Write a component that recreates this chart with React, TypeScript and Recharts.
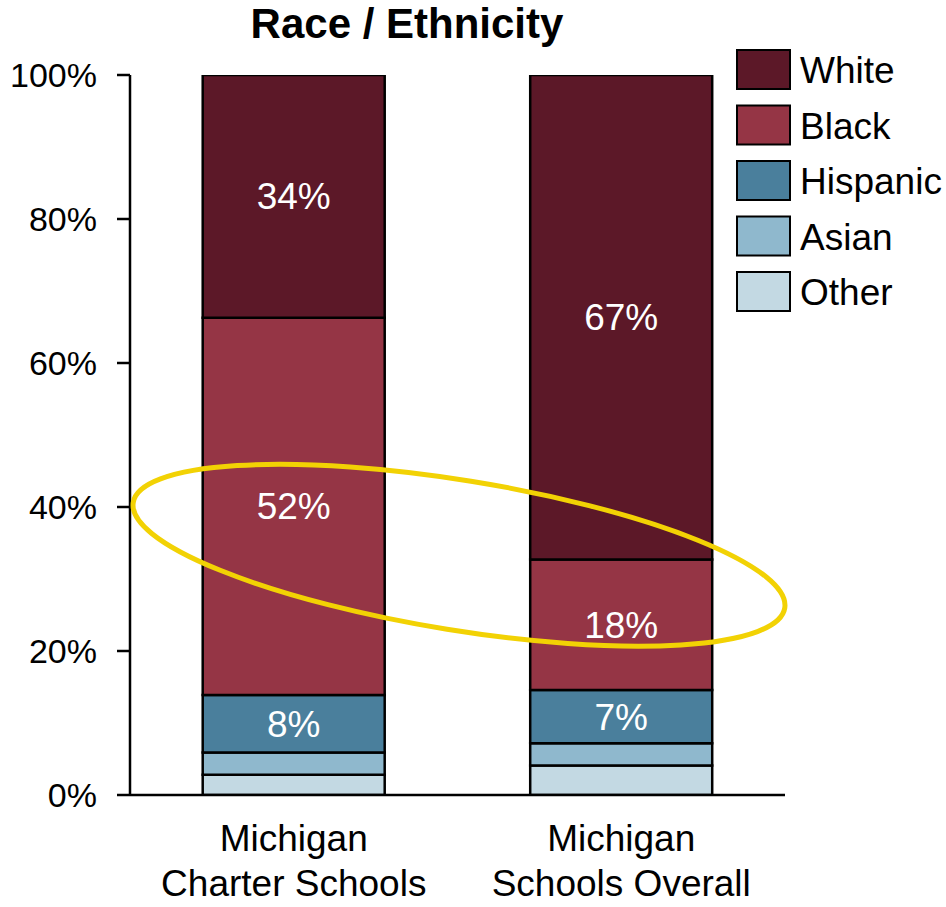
import React from "react";
import { BarChart, Bar, XAxis, YAxis, LabelList } from "recharts";

const categories = ["Michigan\nCharter Schools", "Michigan\nSchools Overall"];
const white = [33.7, 67.3];
const black = [52.4, 18.1];
const hispanic = [8.0, 7.4];
const asian = [3.1, 3.1];
const other = [2.8, 4.1];
const yTicks = [0, 20, 40, 60, 80, 100];
const title = "Race / Ethnicity";

const series = [
  { key: "Other", values: other, color: "#C3D9E3", label: false },
  { key: "Asian", values: asian, color: "#8FB8CD", label: false },
  { key: "Hispanic", values: hispanic, color: "#4A7F9C", label: true },
  { key: "Black", values: black, color: "#953545", label: true },
  { key: "White", values: white, color: "#5C1828", label: true },
];

const data = categories.map((name, i) => {
  const row: Record<string, string | number> = { name };
  series.forEach((s) => {
    row[s.key] = s.values[i];
  });
  return row;
});

const W = 946;
const H = 907;
const margin = { top: 75, right: 161, bottom: 0, left: 0 };
const yAxisWidth = 130;
const xAxisHeight = 112;
const plotLeft = margin.left + yAxisWidth;
const plotRight = W - margin.right;
const plotTop = margin.top;
const plotBottom = H - margin.bottom - xAxisHeight;
const yPx = (v: number) => plotBottom - (v / 100) * (plotBottom - plotTop);

const FONT = "'Liberation Sans', Arial, Helvetica, sans-serif";

const CategoryTick = (props: any) => {
  const { x, payload } = props;
  const lines = String(payload.value).split("\n");
  return (
    <text x={x} y={plotBottom} textAnchor="middle" fill="#000" fontSize={37} fontFamily={FONT}>
      {lines.map((l, i) => (
        <tspan key={i} x={x} y={plotBottom + 56 + i * 45}>
          {l}
        </tspan>
      ))}
    </text>
  );
};

export default function App() {
  const legendItems = [...series].reverse();
  const ecx = (plotLeft + plotRight) / 2 + 1.5;
  const ecy = yPx(33.3);
  return (
    <div style={{ position: "absolute", left: 0, top: 0, width: W, height: H, background: "#fff", fontFamily: FONT }}>
      <BarChart width={W} height={H} data={data} margin={margin} barCategoryGap="22.2%">
        <XAxis
          dataKey="name"
          height={xAxisHeight}
          tickLine={false}
          axisLine={{ stroke: "#000", strokeWidth: 2.5 }}
          tick={<CategoryTick />}
          interval={0}
        />
        <YAxis
          width={yAxisWidth}
          domain={[0, 100]}
          ticks={yTicks}
          tickFormatter={(v: number) => `${v}%`}
          axisLine={{ stroke: "#000", strokeWidth: 2.5 }}
          tickLine={{ stroke: "#000", strokeWidth: 2.5 }}
          tickSize={13}
          tickMargin={20}
          tick={{ fill: "#000", fontSize: 34, fontFamily: FONT }}
          allowDataOverflow
        />
        {series.map((s) => (
          <Bar
            key={s.key}
            dataKey={s.key}
            stackId="a"
            fill={s.color}
            stroke="#000"
            strokeWidth={2.5}
            isAnimationActive={false}
          >
            {s.label && (
              <LabelList
                dataKey={s.key}
                position="center"
                fill="#fff"
                fontSize={37}
                fontFamily={FONT}
                formatter={(v: any) => `${Math.round(Number(v))}%`}
              />
            )}
          </Bar>
        ))}
      </BarChart>
      <svg
        width={W}
        height={H}
        style={{ position: "absolute", left: 0, top: 0, pointerEvents: "none" }}
      >
        <text x={407} y={38} textAnchor="middle" fontSize={42} fontWeight="bold" fontFamily={FONT} fill="#000">
          {title}
        </text>
        {legendItems.map((s, i) => (
          <g key={s.key}>
            <rect x={737} y={50 + i * 55.5} width={53} height={39} fill={s.color} stroke="#000" strokeWidth={2} />
            <text x={800} y={83 + i * 55.5} fontSize={37} fontFamily={FONT} fill="#000">
              {s.key}
            </text>
          </g>
        ))}
        <ellipse
          cx={ecx}
          cy={ecy}
          rx={330}
          ry={75}
          fill="none"
          stroke="#F2D204"
          strokeWidth={5}
          transform={`rotate(9.2 ${ecx} ${ecy})`}
        />
      </svg>
    </div>
  );
}
